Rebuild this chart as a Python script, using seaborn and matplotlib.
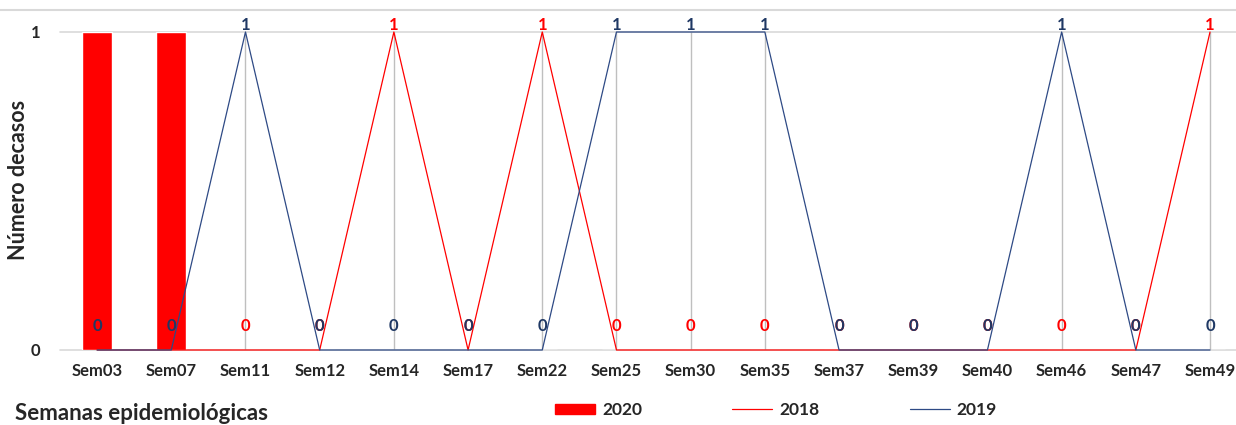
import numpy as np
import pandas as pd
import matplotlib
matplotlib.use("Agg")
import matplotlib.pyplot as plt
from matplotlib.lines import Line2D
from matplotlib.patches import Patch
import seaborn as sns

sns.set_style("white")
plt.rcParams['font.family'] = ['Lato', 'DejaVu Sans']

# data
semanas = ["Sem03", "Sem07", "Sem11", "Sem12", "Sem14", "Sem17", "Sem22", "Sem25",
           "Sem30", "Sem35", "Sem37", "Sem39", "Sem40", "Sem46", "Sem47", "Sem49"]
casos_2020 = [1, 1, 0, 0, 0, 0, 0, 0, 0, 0, 0, 0, 0, 0, 0, 0]
casos_2018 = [0, 0, 0, 0, 1, 0, 1, 0, 0, 0, 0, 0, 0, 0, 0, 1]
casos_2019 = [0, 0, 1, 0, 0, 0, 0, 1, 1, 1, 0, 0, 0, 1, 0, 0]

red = "#FF0000"
navy = "#2E4A85"
navy_txt = "#1F3864"

pos = np.arange(len(semanas))
df = pd.DataFrame({"pos": pos, "sem": semanas, "c2020": casos_2020,
                   "c2018": casos_2018, "c2019": casos_2019})

fig = plt.figure(figsize=(12.36, 4.25), dpi=100)
ax = fig.add_axes([60 / 1236, 75 / 425, 1176 / 1236, 318 / 425])

# horizontal gridlines
for yv in [0, 1]:
    ax.axhline(yv, color="#D9D9D9", lw=1.2, zorder=0, clip_on=False)

sns.barplot(data=df, x="pos", y="c2020", color=red, width=0.4, saturation=1,
            ax=ax, zorder=2, native_scale=True)

# drop lines
ax.vlines(pos, 0, np.maximum(casos_2018, casos_2019), color="#BFBFBF", lw=1, zorder=1)

sns.lineplot(data=df, x="pos", y="c2018", color=red, lw=0.9, ax=ax, zorder=3, clip_on=False)
sns.lineplot(data=df, x="pos", y="c2019", color=navy, lw=0.9, ax=ax, zorder=4, clip_on=False)

# data labels
for vals, col in [(casos_2018, red), (casos_2019, navy_txt)]:
    for x, v in zip(pos, vals):
        y = 1.022 if v == 1 else 0.075
        ax.text(x, y, str(v), color=col, ha="center", va="center",
                fontsize=12, fontweight="bold", clip_on=False, zorder=5)

ax.set_xlim(-0.5, 15.35)
ax.set_ylim(0, 1)
ax.set_xticks(pos)
ax.set_xticklabels(semanas, fontsize=12, fontweight="bold")
ax.set_yticks([0, 1])
ax.set_yticklabels(["0", "1"], fontsize=12, fontweight="bold")
ax.tick_params(axis="both", length=0)
ax.tick_params(axis="x", pad=9)
ax.tick_params(axis="y", pad=14)
for s in ax.spines.values():
    s.set_visible(False)
ax.set_xlabel("")
ax.set_ylabel("")

fig.text(19 / 1236, 1 - 180 / 425, "Número decasos", fontsize=15.5, fontweight="bold",
         rotation=90, va="center", ha="center")
fig.text(15 / 1236, 1 - 413 / 425, "Semanas epidemiológicas", fontsize=16,
         fontweight="bold", va="center", ha="left")

# top border line
fig.add_artist(Line2D([0, 1], [1 - 10 / 425, 1 - 10 / 425], color="#D9D9D9", lw=1.5))

handles = [Patch(facecolor=red, edgecolor=red),
           Line2D([0], [0], color=red, lw=0.9),
           Line2D([0], [0], color=navy, lw=0.9)]
fig.legend(handles, ["2020", "2018", "2019"], ncol=3, loc="center",
           bbox_to_anchor=(776 / 1236, 1 - 410 / 425), frameon=False,
           prop={"size": 12.5, "weight": "bold"}, handlelength=2.3,
           handleheight=0.5, handletextpad=0.4, columnspacing=5.2)

fig.savefig("out.png", dpi=100)
